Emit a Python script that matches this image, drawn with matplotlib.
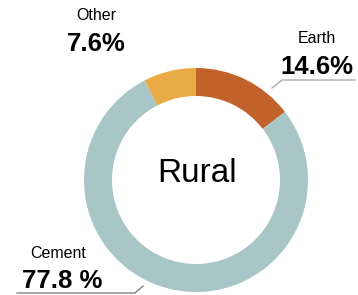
import matplotlib
matplotlib.use("Agg")
import matplotlib.pyplot as plt

plt.rcParams['font.family'] = ['Liberation Sans', 'DejaVu Sans']

labels = ['Earth', 'Cement', 'Other']
shares = [14.6, 77.8, 7.6]
share_text = ['14.6%', '77.8 %', '7.6%']
colors = ['#c0622a', '#a8c6c8', '#e8ab45']

W, H = 358, 295
fig = plt.figure(figsize=(W / 100, H / 100), dpi=100)
ax = fig.add_axes([0, 0, 1, 1])

def yy(y):
    # pixel row from the top -> data y
    return H - y

ax.pie(shares, colors=colors, startangle=90, counterclock=False,
       center=(196, yy(180)), radius=112, frame=True,
       wedgeprops=dict(width=28, linewidth=0))
ax.set_xlim(0, W)
ax.set_ylim(0, H)
ax.set_aspect('equal')
ax.axis('off')

ax.text(197, yy(174), 'Rural', fontsize=24, ha='center', va='center')

# label positions: (name x, name baseline, value x, value baseline)
pos = {
    'Other': (96, 20, 96, 51),
    'Earth': (317, 43, 317, 74),
    'Cement': (58, 258, 62, 288),
}
for name, val in zip(labels, share_text):
    nx, ny, vx, vy = pos[name]
    ax.text(nx, yy(ny), name, fontsize=11.5, ha='center', va='baseline')
    ax.text(vx, yy(vy), val, fontsize=18.5, fontweight='bold',
            ha='center', va='baseline')

# leader lines
ax.plot([355, 282, 272], [yy(80), yy(80), yy(88)], color='#999999', lw=0.8)
ax.plot([17, 135, 143], [yy(293), yy(293), yy(286)], color='#777777', lw=0.9)

fig.savefig('out.png', dpi=100)
